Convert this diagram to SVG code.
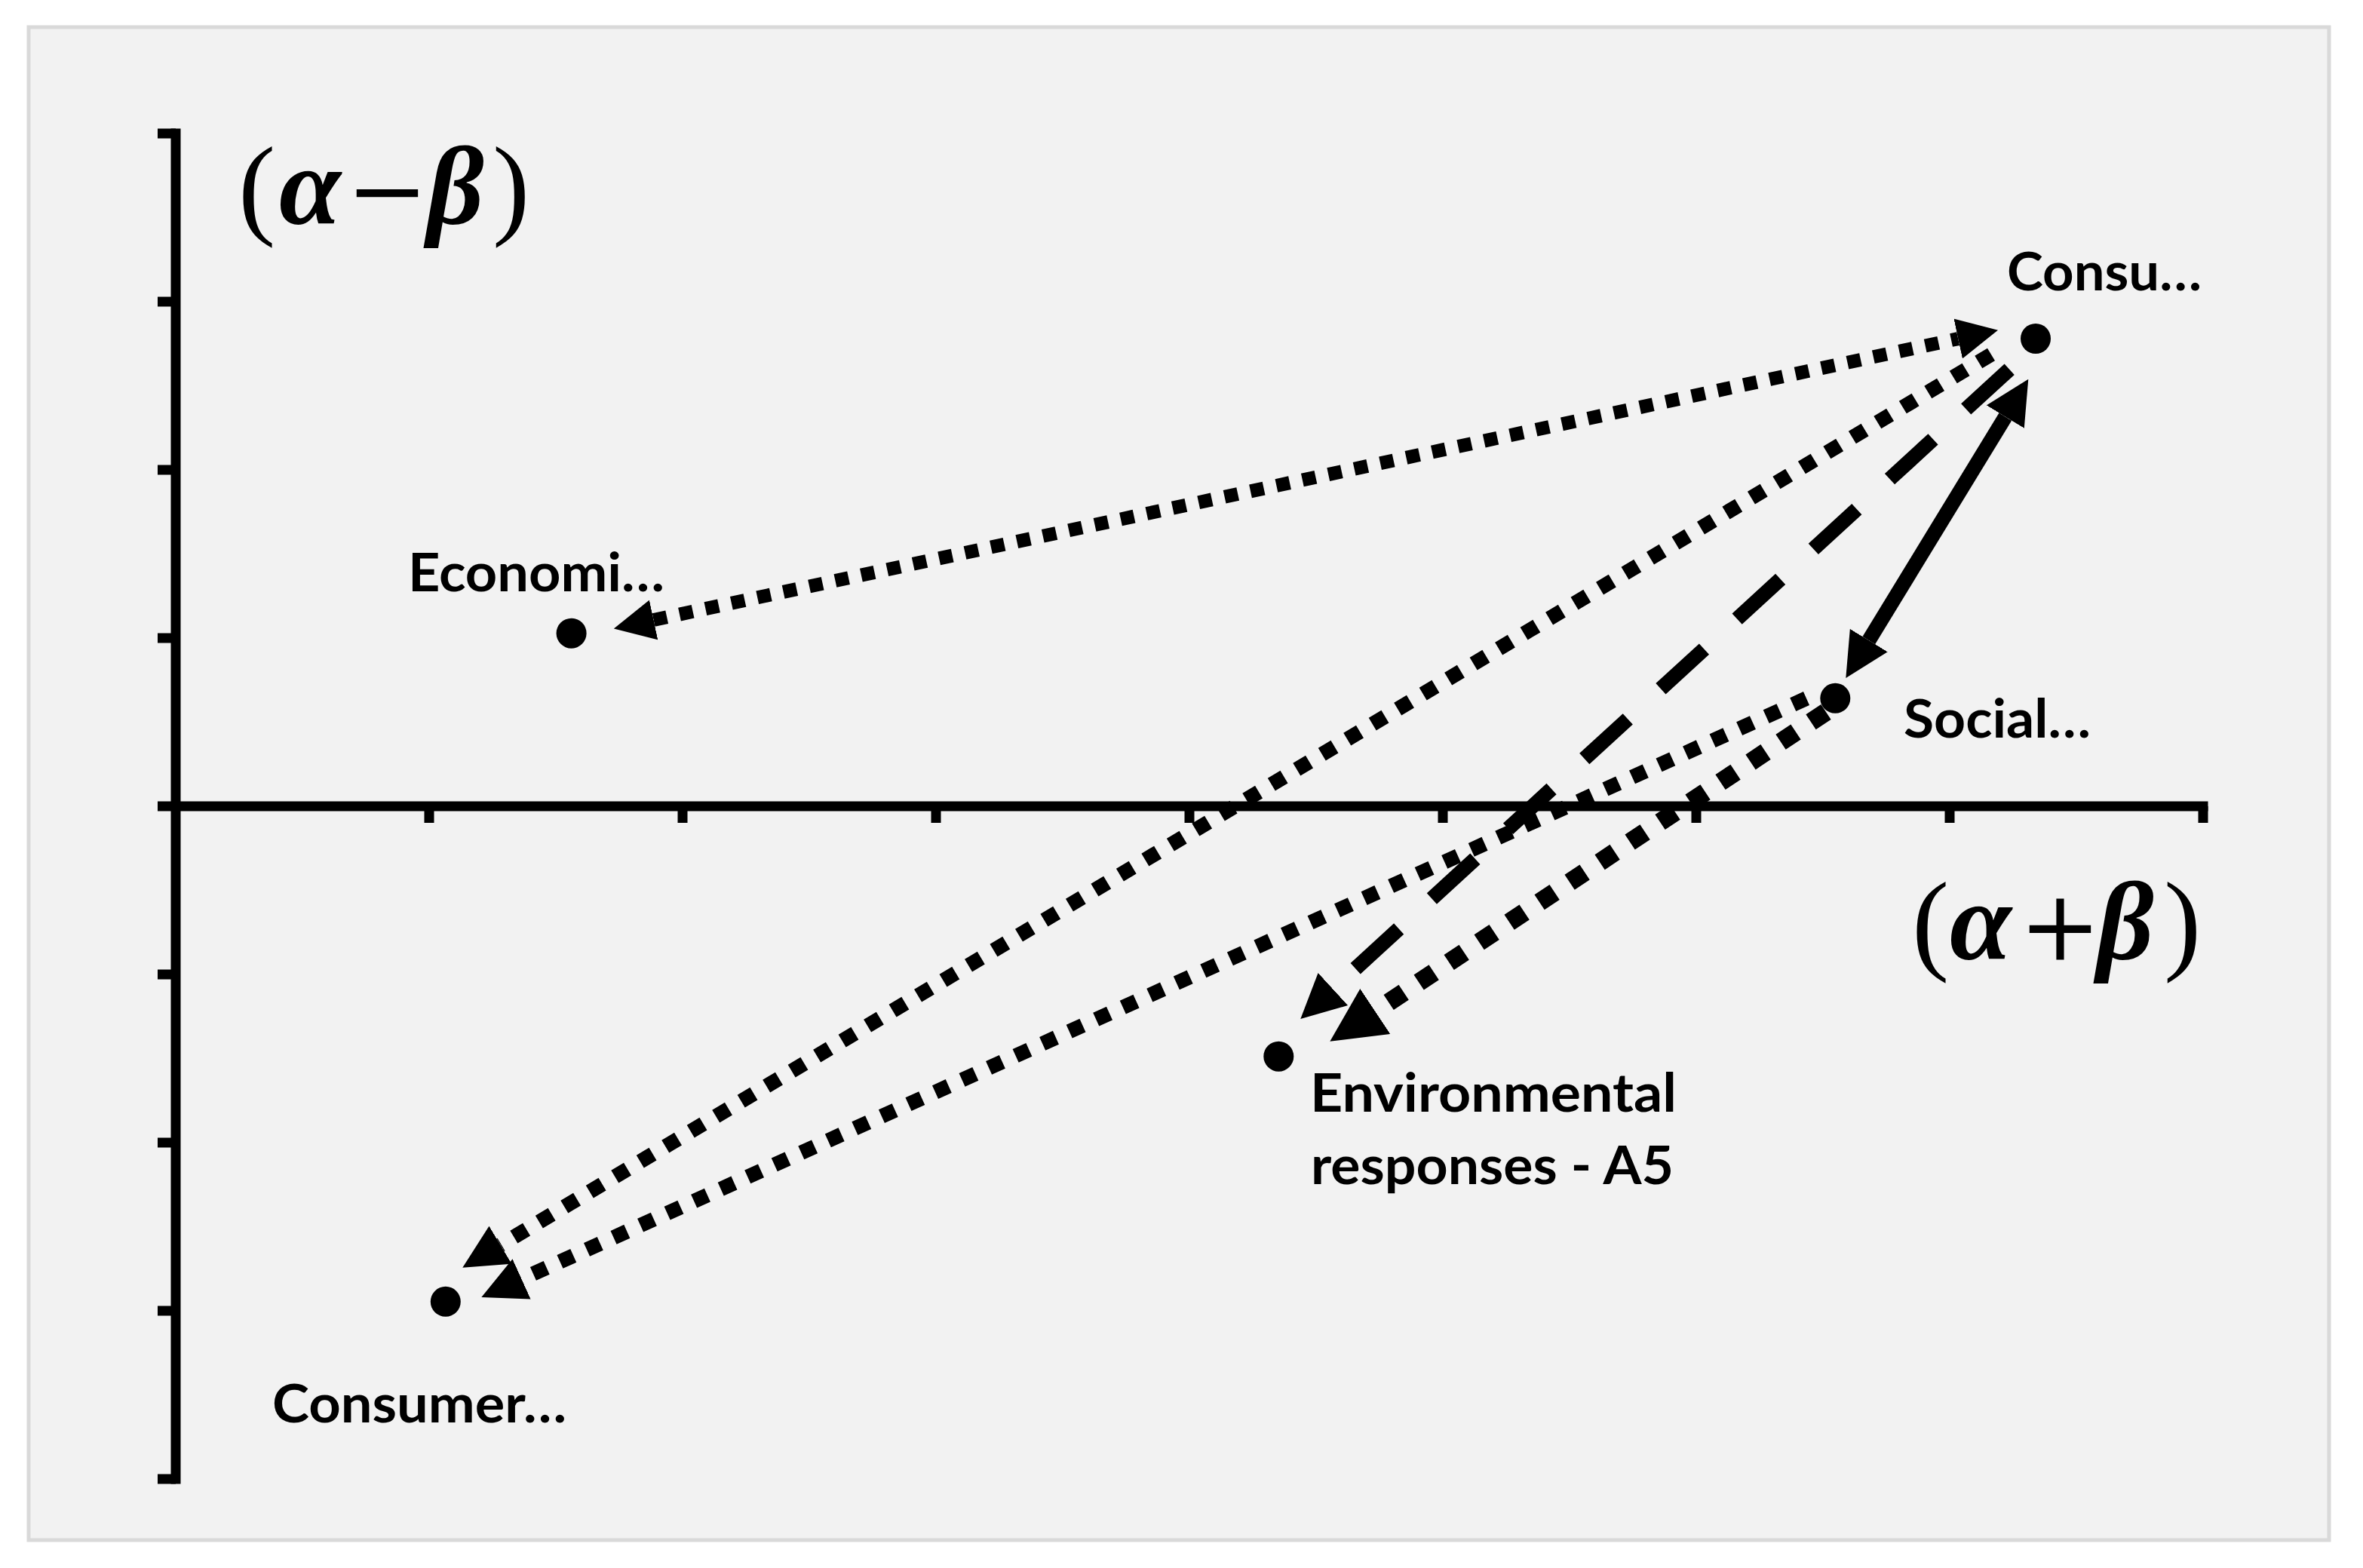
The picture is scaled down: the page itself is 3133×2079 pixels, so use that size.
<svg xmlns="http://www.w3.org/2000/svg" width="3133" height="2079" viewBox="0 0 3133 2079">
<style>
.axis{stroke:#000;stroke-width:13;fill:none;stroke-linecap:butt}
.dot{fill:#000}
.lbl{font-family:Lato,"Open Sans","Liberation Sans",sans-serif;font-weight:bold;font-size:70px;fill:#000}
.math{font-family:"Liberation Serif","DejaVu Serif",serif;font-size:148px;fill:#000}
.bi{font-weight:bold;font-style:italic}
.op{font-family:"DejaVu Serif","Liberation Serif",serif;font-size:130px}
.conn{stroke:#000;fill:none;stroke-linecap:butt}
</style>
<defs>
<marker id="ah" viewBox="0 0 3 3" refX="0" refY="1.5" markerWidth="3" markerHeight="3" markerUnits="strokeWidth" orient="auto-start-reverse">
<path d="M0,0 L3,1.5 L0,3 Z" fill="#000"/>
</marker>
</defs>
<rect x="0" y="0" width="3133" height="2079" fill="#ffffff"/>
<rect x="38" y="36" width="3050" height="2006" fill="#f2f2f2" stroke="#d9d9d9" stroke-width="5"/>
<g id="axes">
<line class="axis" x1="233" y1="170.5" x2="233" y2="1967.5"/>
<line class="axis" x1="209" y1="1069" x2="2927.5" y2="1069"/>
<path class="axis" d="M209,177H233M209,400H233M209,623H233M209,846H233M209,1292H233M209,1515H233M209,1738H233M209,1961H233"/>
<path class="axis" d="M569,1069V1091M905,1069V1091M1241,1069V1091M1577,1069V1091M1913,1069V1091M2249,1069V1091M2585,1069V1091M2921,1069V1091"/>
<text class="math" y="297"><tspan x="316">(</tspan><tspan x="370" class="bi">α</tspan><tspan x="459" class="op">−</tspan><tspan x="566" class="bi">β</tspan><tspan x="653">)</tspan></text>
<text class="math" y="1272"><tspan x="2535">(</tspan><tspan x="2585" class="bi">α</tspan><tspan x="2677" class="op">+</tspan><tspan x="2780" class="bi">β</tspan><tspan x="2869">)</tspan></text>
</g>
<g id="connectors">
<line class="conn" x1="866.6" y1="822" x2="2596.2" y2="449.1" stroke-width="18" stroke-dasharray="18 17.2" marker-start="url(#ah)" marker-end="url(#ah)"/>
<line class="conn" x1="2640" y1="470" x2="663.5" y2="1650.7" stroke-width="19.5" stroke-dasharray="19.5 19.5" marker-end="url(#ah)"/>
<line class="conn" x1="2664.2" y1="489.7" x2="1767.4" y2="1311.5" stroke-width="19.5" stroke-dasharray="78 59.25" marker-end="url(#ah)"/>
<line class="conn" x1="2477.8" y1="849.1" x2="2658.8" y2="552.6" stroke-width="19.5" marker-start="url(#ah)" marker-end="url(#ah)"/>
<line class="conn" x1="2421" y1="944" x2="1823.3" y2="1340.9" stroke-width="24" stroke-dasharray="24 24" marker-end="url(#ah)"/>
<line class="conn" x1="2395" y1="926" x2="691.6" y2="1695.9" stroke-width="19.5" stroke-dasharray="19.5 19.5" marker-end="url(#ah)"/>
</g>
<g id="node-economic">
<circle class="dot" cx="757.6" cy="839.7" r="20"/>
<text class="lbl" x="541" y="784" textLength="340" lengthAdjust="spacingAndGlyphs">Economi…</text>
</g>
<g id="node-consu">
<circle class="dot" cx="2699" cy="449" r="20"/>
<text class="lbl" x="2661" y="385" textLength="258" lengthAdjust="spacingAndGlyphs">Consu…</text>
</g>
<g id="node-social">
<circle class="dot" cx="2433.3" cy="925.8" r="20"/>
<text class="lbl" x="2524" y="978" textLength="248" lengthAdjust="spacingAndGlyphs">Social…</text>
</g>
<g id="node-environmental">
<circle class="dot" cx="1695.3" cy="1400.7" r="20"/>
<text class="lbl" x="1737" y="1474" textLength="486" lengthAdjust="spacingAndGlyphs">Environmental</text>
<text class="lbl" x="1738" y="1570" textLength="481" lengthAdjust="spacingAndGlyphs">responses - A5</text>
</g>
<g id="node-consumer">
<circle class="dot" cx="590.8" cy="1725.8" r="20"/>
<text class="lbl" x="361" y="1886" textLength="390" lengthAdjust="spacingAndGlyphs">Consumer…</text>
</g>
</svg>
